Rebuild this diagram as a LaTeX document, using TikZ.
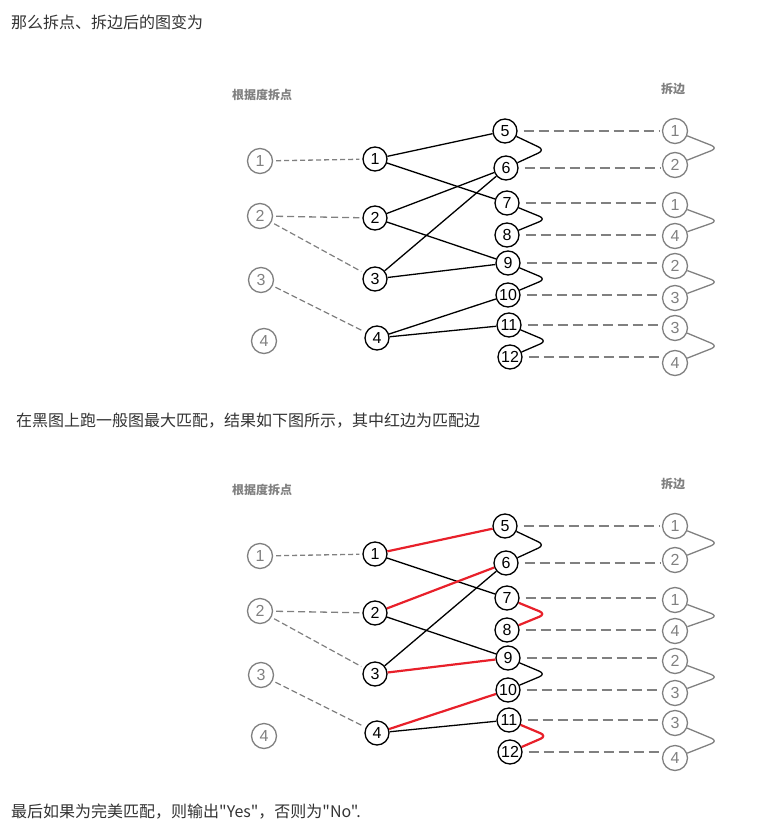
\documentclass[tikz,border=0pt]{standalone}
\usepackage{fontspec}
\newfontfamily\cjk{Noto Sans CJK SC}
\newfontfamily\digits{Liberation Sans}
\definecolor{textgray}{HTML}{333333}
\definecolor{linegray}{HTML}{808080}
\definecolor{matchred}{HTML}{E8202A}

\begin{document}
\begin{tikzpicture}[x=1pt, y=-1pt,
  vtx/.style={circle, draw, line width=1.3pt, minimum size=24pt, inner sep=0pt, font=\digits\fontsize{16}{16}\selectfont},
  gvtx/.style={vtx, minimum size=25pt, draw=linegray, text=linegray, line width=1.3pt},
  edge/.style={line width=1.3pt, rounded corners=7pt},
  match/.style={edge, draw=\mc, line width=\mw},
  gdash/.style={draw=linegray, line width=1.6pt, dash pattern=on 10pt off 5pt},
  gpair/.style={draw=linegray, line width=1.3pt, rounded corners=7pt},
  hdr/.style={font=\cjk\bfseries\fontsize{12}{12}\selectfont, text=linegray},
  para/.style={anchor=west, inner sep=0pt, text=textgray, font=\cjk\fontsize{16}{16}\selectfont}]
  \useasboundingbox (0,0) rectangle (764,826);
  % Text lines
  \node[para] (t1) at (11,22) {那么拆点、拆边后的图变为};
  \node[para] (t2) at (16,421) {在黑图上跑一般图最大匹配，结果如下图所示，其中红边为匹配边};
  \node[para] (t3) at (11,812) {最后如果为完美匹配，则输出"Yes"，否则为"No".};
  % Both panels; the second one shows the matching in red
  \foreach \p/\dy/\mc/\mw in {a/0/black/1.3pt, b/395/matchred/2.2pt}{
    \node[hdr] (\p-h1) at (262,95+\dy) {根据度拆点};
    \node[hdr] (\p-h2) at (673,89+\dy) {拆边};
    % original vertices
    \foreach \i/\x/\y in {1/260/161, 2/260/216, 3/261/280, 4/264/341}
      \node[gvtx] (\p-l\i) at (\x,\y+\dy) {\i};
    % split vertices
    \foreach \i/\x/\y in {1/375/159, 2/375/218, 3/375/279, 4/377/338}
      \node[vtx] (\p-m\i) at (\x,\y+\dy) {\i};
    \foreach \i/\x/\y in {5/505/131, 6/506/168, 7/507/203, 8/507/235, 9/508/263, 10/508/295, 11/509/325, 12/510/357}
      \node[vtx] (\p-r\i) at (\x,\y+\dy) {\i};
    % split edges
    \foreach \i/\y/\t in {1/131/1, 2/165/2, 3/205/1, 4/236/4, 5/266/2, 6/298/3, 7/328/3, 8/363/4}
      \node[gvtx] (\p-g\i) at (675,\y+\dy) {\t};
    % dashed links
    \draw[gdash, line width=1.3pt, dash pattern=on 5pt off 3pt, shorten <=3pt, shorten >=3pt] (\p-l1) -- (\p-m1);
    \draw[gdash, line width=1.3pt, dash pattern=on 7pt off 4pt, shorten <=3pt, shorten >=3pt] (\p-l2) -- (\p-m2);
    \draw[gdash, line width=1.2pt, dash pattern=on 6pt off 3pt, shorten <=3pt, shorten >=3pt] (\p-l2) -- (\p-m3);
    \draw[gdash, line width=1.2pt, dash pattern=on 6pt off 3pt, shorten <=3pt, shorten >=3pt] (\p-l3) -- (\p-m4);
    \foreach \r/\g in {5/1, 6/2, 7/3, 8/4, 9/5, 10/6, 11/7, 12/8}
      \draw[gdash, shorten <=6pt, shorten >=2pt] (\p-r\r.east) -- (\p-r\r.east -| \p-g\g.west);
    % graph edges
    \draw[edge] (\p-m1) -- (\p-r7);
    \draw[edge] (\p-m2) -- (\p-r9);
    \draw[edge] (\p-m3) -- (\p-r6);
    \draw[edge] (\p-m4) -- (\p-r11);
    \draw[match] (\p-m1) -- (\p-r5);
    \draw[match] (\p-m2) -- (\p-r6);
    \draw[match] (\p-m3) -- (\p-r9);
    \draw[match] (\p-m4) -- (\p-r10);
    % pairs of copies
    \coordinate (\p-k5) at (545,150+\dy);
    \coordinate (\p-k7) at (546,219+\dy);
    \coordinate (\p-k9) at (546,279+\dy);
    \coordinate (\p-k11) at (547,341+\dy);
    \draw[edge] (\p-r5) -- (\p-k5) -- (\p-r6);
    \draw[match] (\p-r7) -- (\p-k7) -- (\p-r8);
    \draw[edge] (\p-r9) -- (\p-k9) -- (\p-r10);
    \draw[match] (\p-r11) -- (\p-k11) -- (\p-r12);
    \foreach \i/\j/\y in {1/2/148, 3/4/221, 5/6/282, 7/8/346}{
      \coordinate (\p-q\i) at (718,\y+\dy);
      \draw[gpair] (\p-g\i) -- (\p-q\i) -- (\p-g\j);
    }
  }
\end{tikzpicture}
\end{document}
